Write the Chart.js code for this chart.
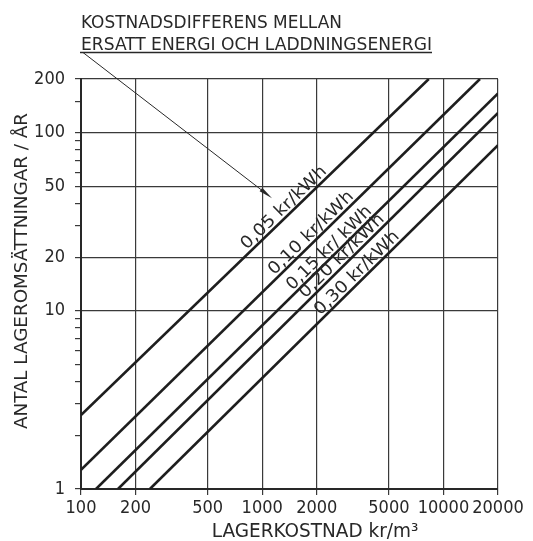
<!DOCTYPE html>
<html><head><meta charset="utf-8">
<script src="https://cdn.jsdelivr.net/npm/chart.js@4.4.1/dist/chart.umd.min.js"></script>
<style>html,body{margin:0;padding:0;background:#fff;}#wrap{width:533px;height:541px;position:relative;}</style>
</head><body><div id="wrap"><canvas id="c" width="533" height="541"></canvas></div>
<script>
// ---- data ----
const rateLabels  = ['0,05 kr/kWh', '0,10 kr/kWh', '0,15 kr/ kWh', '0,20 kr/kWh', '0,30 kr/kWh'];
const startCost   = [100, 100, 121, 160, 240];
const startTurns  = [2.6, 1.28, 1, 1, 1];
const endCost     = [8300, 15900, 20000, 20000, 20000];
const endTurns    = [200, 200, 166, 129, 85];
const xTickValues = [100, 200, 500, 1000, 2000, 5000, 10000, 20000];
const yTickValues = [1, 10, 20, 50, 100, 200];
const yMinorValues = [2, 3, 4, 5, 6, 7, 8, 9, 30, 40, 60, 70, 80, 90, 150];
const titleLines  = ['KOSTNADSDIFFERENS MELLAN', 'ERSATT ENERGI OCH LADDNINGSENERGI'];
const xTitle = 'LAGERKOSTNAD kr/m³';
const yTitle = 'ANTAL LAGEROMSÄTTNINGAR / ÅR';

// ---- styling ----
const FONT = "'Liberation Sans Narrow', 'DejaVu Sans Condensed', 'Liberation Sans', sans-serif";
const INK = '#282828';
const GRID = '#3a3a3a';
const labelAtCost = [1415, 2000, 2520, 2960, 3580];

function fitText(ctx, text, x, y, width, size, align) {
  ctx.save();
  ctx.font = size + 'px ' + FONT;
  const w = ctx.measureText(text).width;
  ctx.translate(x, y);
  ctx.scale(width / w, 1);
  ctx.textAlign = align || 'left';
  ctx.fillText(text, 0, 0);
  ctx.restore();
}

const annotPlugin = {
  id: 'annot',
  afterDraw(chart) {
    const ctx = chart.ctx, xs = chart.scales.x, ys = chart.scales.y;
    ctx.save();
    ctx.fillStyle = INK; ctx.strokeStyle = INK;
    ctx.textBaseline = 'alphabetic';
    // title block
    fitText(ctx, titleLines[0], 81, 28, 261, 18.5);
    fitText(ctx, titleLines[1], 81, 50, 351, 18.5);
    ctx.lineWidth = 1.3;
    ctx.beginPath(); ctx.moveTo(80, 52.5); ctx.lineTo(432, 52.5); ctx.stroke();
    // leader with arrow
    const tx = xs.getPixelForValue(1133), ty = ys.getPixelForValue(42.9);
    const sx = 83, sy = 52.5;
    const a = Math.atan2(ty - sy, tx - sx);
    ctx.lineWidth = 1;
    ctx.beginPath(); ctx.moveTo(sx, sy); ctx.lineTo(tx - 12 * Math.cos(a), ty - 12 * Math.sin(a)); ctx.stroke();
    ctx.beginPath();
    ctx.moveTo(tx, ty);
    ctx.lineTo(tx - 14 * Math.cos(a) + 2.2 * Math.sin(a), ty - 14 * Math.sin(a) - 2.2 * Math.cos(a));
    ctx.lineTo(tx - 14 * Math.cos(a) - 2.2 * Math.sin(a), ty - 14 * Math.sin(a) + 2.2 * Math.cos(a));
    ctx.closePath(); ctx.fill();
    // axis titles
    fitText(ctx, xTitle, 211.7, 537, 206.6, 19);
    ctx.save();
    ctx.translate(27, 429); ctx.rotate(-Math.PI / 2);
    fitText(ctx, yTitle, 0, 0, 316, 18);
    ctx.restore();
    // line labels
    rateLabels.forEach((lab, i) => {
      const x1 = xs.getPixelForValue(startCost[i]), y1 = ys.getPixelForValue(startTurns[i]);
      const x2 = xs.getPixelForValue(endCost[i]), y2 = ys.getPixelForValue(endTurns[i]);
      const ang = Math.atan2(y2 - y1, x2 - x1);
      const cx = xs.getPixelForValue(labelAtCost[i]);
      const t = (cx - x1) / (x2 - x1);
      const cy = y1 + t * (y2 - y1);
      const off = 3.5;
      const px = cx + Math.sin(ang) * off, py = cy - Math.cos(ang) * off;
      ctx.save();
      ctx.translate(px, py); ctx.rotate(ang);
      fitText(ctx, lab, 0, 0, 112, 17, 'center');
      ctx.restore();
    });
    ctx.restore();
  }
};

const datasets = rateLabels.map((lab, i) => ({
  label: lab,
  data: [{ x: startCost[i], y: startTurns[i] }, { x: endCost[i], y: endTurns[i] }],
  borderColor: '#1e1e1e', borderWidth: 2.6, pointRadius: 0, fill: false, tension: 0
}));

const tickFont = { family: FONT, size: 18, lineHeight: 1.2 };

new Chart(document.getElementById('c'), {
  type: 'line',
  data: { datasets },
  plugins: [annotPlugin],
  options: {
    responsive: false, animation: false,
    layout: { padding: { left: 0, top: 79, right: 35, bottom: 0 } },
    plugins: { legend: { display: false }, tooltip: { enabled: false }, title: { display: false } },
    scales: {
      x: {
        type: 'logarithmic', min: 100, max: 20000,
        afterBuildTicks: s => { s.ticks = xTickValues.map(v => ({ value: v })); },
        afterFit: s => { s.height = 52; },
        ticks: { autoSkip: false, maxRotation: 0, minRotation: 0, padding: 3, color: INK, font: tickFont,
                 callback: v => String(v) },
        grid: { color: GRID, lineWidth: 1.2, tickLength: 6, tickColor: GRID, tickWidth: 1.2 },
        border: { color: INK, width: 2 }
      },
      y: {
        type: 'logarithmic', min: 1, max: 200,
        afterBuildTicks: s => {
          s.ticks = yTickValues.concat(yMinorValues).sort((a, b) => a - b).map(v => ({ value: v }));
        },
        afterFit: s => { s.width = 81; },
        ticks: { autoSkip: false, padding: 10, color: INK, font: tickFont,
                 callback: v => (yTickValues.includes(v) ? String(v) : '') },
        grid: {
          color: c => (c.tick && yTickValues.includes(c.tick.value) ? GRID : 'rgba(0,0,0,0)'),
          lineWidth: 1.2, tickLength: 6, tickColor: GRID, tickWidth: 1.2
        },
        border: { color: INK, width: 2 }
      }
    }
  }
});
</script></body></html>
